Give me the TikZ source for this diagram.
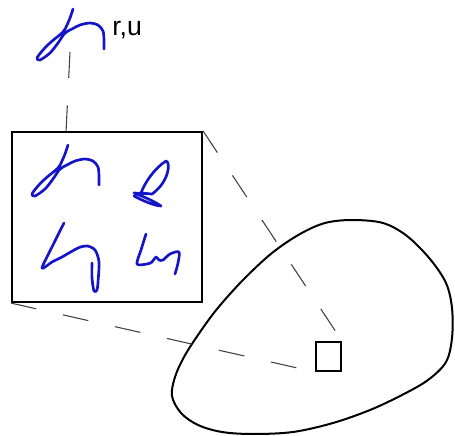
\documentclass[tikz,border=0pt]{standalone}
\usepackage{fontspec}
\setmainfont{Liberation Sans}
\definecolor{inkblue}{RGB}{20,20,200}
\begin{document}
\begin{tikzpicture}[x=0.75pt,y=-0.75pt,
  ink/.style={draw=inkblue, line width=2pt, line cap=round, line join=round},
  guide/.style={draw=black!75, line width=0.8pt, dash pattern=on 19.5pt off 20.5pt},
  frame/.style={draw, line width=1.6pt, inner sep=0pt},
  pics/hglyph/.style={code={
    \draw[ink] plot[smooth, tension=0.5] coordinates {
      (73,9) (70,18) (67,25) (63,32) (51,42) (43,50) (37,58) (40,60)
      (50,53) (58,43) (65,33) (72,29) (80,25) (90,23) (98,25) (103,31) (104,40) (104,49)};
  }}]
\useasboundingbox (0,0) rectangle (455,436);

% blob
\draw[line width=1.5pt] plot[smooth cycle, tension=0.55] coordinates {
  (352,220) (383,223) (407,236) (430,259) (446,283) (452,308) (452,338)
  (446,362) (428,380) (402,395) (370,410) (333,423) (293,432) (253,434)
  (222,432) (198,425) (181,413) (172,396) (175,377) (184,357) (198,335)
  (217,309) (243,280) (272,253) (300,234) (325,223)};

% nodes
\node[frame, minimum width=142.5pt, minimum height=127.5pt] (panel) at (107,217) {};
\node[frame, line width=1.5pt, minimum width=18.75pt, minimum height=21.75pt] (cell) at (328.5,356.5) {};
\node[anchor=base west, inner sep=0pt, font=\fontsize{20}{24}\selectfont] (lbl) at (112,35) {r,u};

% glyphs
\pic at (0,0) {hglyph};
\pic at (-5,136) {hglyph};
\draw[ink] (152,194) -- (141,193) .. controls (145,182) and (155,168) .. (166,161)
  .. controls (171,162) and (169,182) .. (152,194)
  -- (134,193) .. controls (142,196) and (154,201) .. (161,206)
  .. controls (155,206) and (141,200) .. (134,196);
\draw[ink] plot[smooth, tension=0.5] coordinates {
  (64,223) (53,245) (42,268) (52,262) (62,257) (78,248) (87,246) (95,250)
  (99,262) (98,282) (97,290) (94,291) (92,278) (92,263)};
\draw[ink] plot[smooth, tension=0.5] coordinates {
  (146,234) (141,250) (137,264) (147,264) (152,262) (156,257) (159,260) (163,260)
  (170,254) (179,252) (178,263) (175,274)};

% connectors
\coordinate (gfoot) at (70,52);
\coordinate (ptop) at (66,132);
\draw[guide] (gfoot) -- (ptop);
\draw[guide] (panel.north east) -- (cell.north east);
\draw[guide] (panel.south west) -- (cell.south west);
\end{tikzpicture}
\end{document}
